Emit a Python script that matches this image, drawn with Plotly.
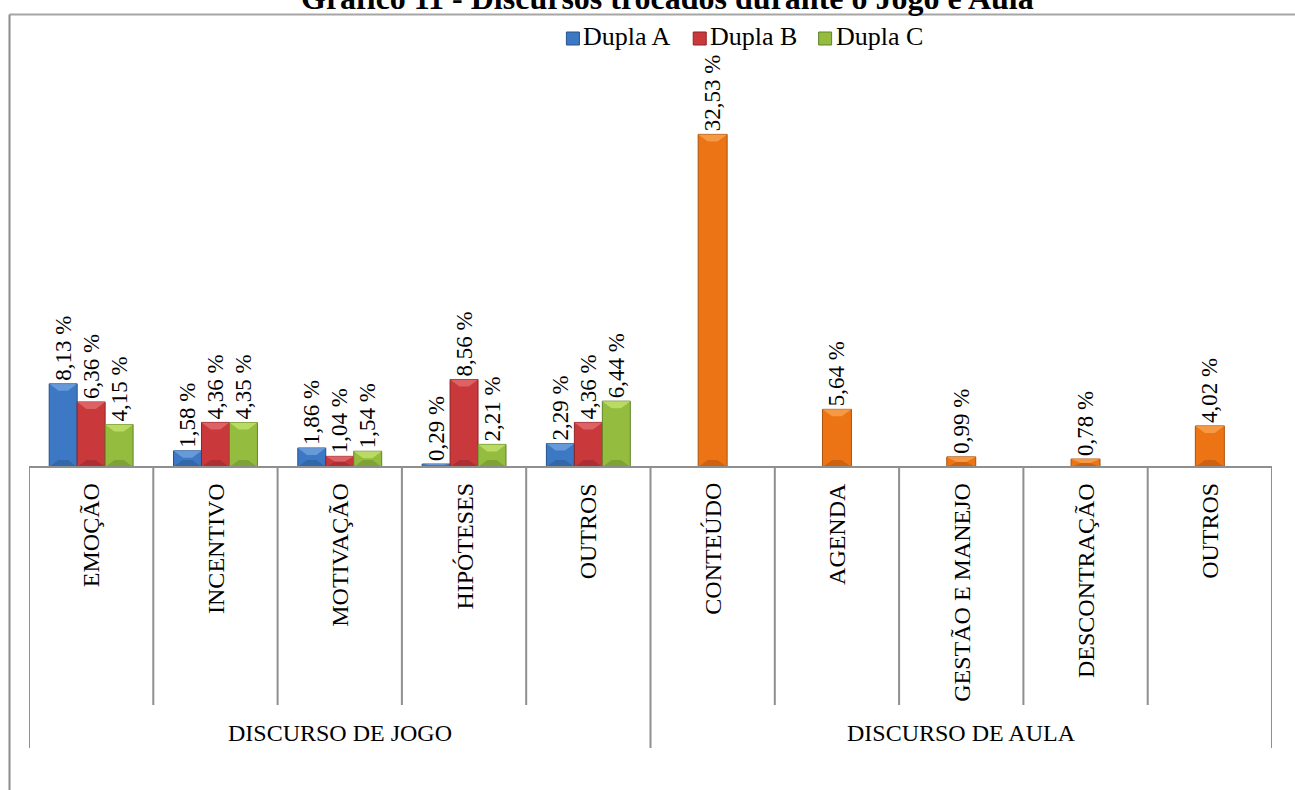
import plotly.graph_objects as go

# Category labels (inner level) and discourse groups (outer level)
categorias = ["EMOÇÃO", "INCENTIVO", "MOTIVAÇÃO", "HIPÓTESES", "OUTROS",
              "CONTEÚDO", "AGENDA", "GESTÃO E MANEJO", "DESCONTRAÇÃO", "OUTROS"]
grupos = ["DISCURSO DE JOGO", "DISCURSO DE AULA"]
grupo_tamanho = [5, 5]

# Percentages for the game discourse (per pair)
jogo_idx = [0, 1, 2, 3, 4]
dupla_a = [8.13, 1.58, 1.86, 0.29, 2.29]
dupla_b = [6.36, 4.36, 1.04, 8.56, 4.36]
dupla_c = [4.15, 4.35, 1.54, 2.21, 6.44]

# Percentages for the class discourse
aula_idx = [5, 6, 7, 8, 9]
aula = [32.53, 5.64, 0.99, 0.78, 4.02]

FONT = "Liberation Serif"
W, H = 1295, 790
PX0, PX1 = 29, 1272      # plot area horizontal extent
PY_TOP, PY_BASE = 58, 467  # plot area top and baseline
Y_MAX = 40
GRAY = "#8f8f8f"
PX_PER_UNIT = (PY_BASE - PY_TOP) / Y_MAX


def fx(p):
    return (p - PX0) / (PX1 - PX0)


def fy(p):
    return (PY_BASE - p) / (PY_BASE - PY_TOP)


BW = 0.225
# name, x, values, offset, width, face, edge, light bevel, dark bevel, in legend
series = [
    ("Dupla A", jogo_idx, dupla_a, -1.5 * BW, BW,
     "#3c78c3", "#26528c", "#6fa0dc", "#2c5c97", True),
    ("Dupla B", jogo_idx, dupla_b, -0.5 * BW, BW,
     "#c9393c", "#8e2326", "#e06a6c", "#9c2a2d", True),
    ("Dupla C", jogo_idx, dupla_c, 0.5 * BW, BW,
     "#94bc3e", "#62822a", "#c0e06a", "#70922e", True),
    ("Aula", aula_idx, aula, -0.5 * 0.233, 0.233,
     "#ec7414", "#a9520c", "#f7a04e", "#b9590e", False),
]

fig = go.Figure()
shapes = []
annotations = []

for nome, xs, ys, off, wd, cor, borda, claro, escuro, leg in series:
    fig.add_trace(go.Bar(
        name=nome, x=xs, y=ys, width=wd, offset=off,
        marker=dict(color=cor, line=dict(color=borda, width=1)),
        texttemplate="%{y:.2f} %", textposition="outside", textangle=-90,
        textfont=dict(family=FONT, size=23, color="black"),
        constraintext="none", cliponaxis=False, showlegend=False,
        hoverinfo="skip",
    ))
    # bevelled top and bottom faces on each bar
    for xi, v in zip(xs, ys):
        x0 = xi + off
        x1 = x0 + wd
        d = min(7.0, v * PX_PER_UNIT / 2) / PX_PER_UNIT
        ins = wd / 3
        shapes.append(dict(
            type="path", xref="x", yref="y", layer="above",
            path=f"M {x0},{v} L {x1},{v} L {x1 - ins},{v - d} L {x0 + ins},{v - d} Z",
            fillcolor=claro, line=dict(width=0), opacity=0.85))
        shapes.append(dict(
            type="path", xref="x", yref="y", layer="above",
            path=f"M {x0},0 L {x1},0 L {x1 - ins},{d} L {x0 + ins},{d} Z",
            fillcolor=escuro, line=dict(width=0), opacity=0.6))

# title, sitting on the top edge of the frame
annotations.append(dict(
    text="<b>Gráfico 11 - Discursos trocados durante o Jogo e Aula</b>",
    x=fx(667), xref="paper", y=fy(-2), yref="paper",
    xanchor="center", yanchor="middle", showarrow=False,
    font=dict(family=FONT, size=32, color="black")))

# outer frame (top and left edges)
shapes.append(dict(type="line", xref="paper", yref="paper",
                   x0=fx(9.5), x1=fx(W + 5), y0=fy(14.5), y1=fy(14.5),
                   line=dict(color="#a6a6a6", width=2)))
shapes.append(dict(type="line", xref="paper", yref="paper",
                   x0=fx(9.5), x1=fx(9.5), y0=fy(14.5), y1=fy(H + 5),
                   line=dict(color="#8c8c8c", width=2)))

# category axis baseline
n = len(categorias)
shapes.append(dict(type="line", xref="x", yref="paper",
                   x0=-0.5, x1=n - 0.5, y0=0, y1=0,
                   line=dict(color=GRAY, width=2)))
# dividers: inner between categories, longer ones between groups
limites = [0]
for g in grupo_tamanho:
    limites.append(limites[-1] + g)
for k in range(n + 1):
    fundo = 748 if k in limites else 705
    shapes.append(dict(type="line", xref="x", yref="paper",
                       x0=k - 0.5, x1=k - 0.5, y0=0, y1=fy(fundo),
                       line=dict(color=GRAY, width=2)))

for k, c in enumerate(categorias):
    annotations.append(dict(x=k, xref="x", y=fy(481), yref="paper",
                            text=c, textangle=-90, showarrow=False,
                            xanchor="center", yanchor="top",
                            font=dict(family=FONT, size=24, color="black")))
for i, g in enumerate(grupos):
    centro = (limites[i] + limites[i + 1] - 1) / 2
    annotations.append(dict(x=centro, xref="x", y=fy(733), yref="paper",
                            text=g, showarrow=False,
                            xanchor="center", yanchor="middle",
                            font=dict(family=FONT, size=24, color="black")))

# compact legend: swatch followed directly by its label
LEG_Y = 38
LEG_FS = 26
LEG_END = 922
em = {"D": .722, "u": .5, "p": .5, "l": .278, "a": .444, " ": .25,
      "A": .722, "B": .667, "C": .667}
legenda = [(s[0], s[5], s[6]) for s in series if s[9]]
largura_txt = [sum(em.get(ch, .5) for ch in nome) * LEG_FS for nome, _, _ in legenda]
total = sum(16 + w for w in largura_txt) + 22 * (len(legenda) - 1)
x = LEG_END - total
for (nome, cor, borda), wt in zip(legenda, largura_txt):
    shapes.append(dict(type="rect", xref="paper", yref="paper",
                       x0=fx(x), x1=fx(x + 13), y0=fy(LEG_Y - 6), y1=fy(LEG_Y + 7),
                       fillcolor=cor, line=dict(color=borda, width=1)))
    annotations.append(dict(x=fx(x + 15), xref="paper", y=fy(LEG_Y - 2), yref="paper",
                            text=nome, showarrow=False,
                            xanchor="left", yanchor="middle",
                            font=dict(family=FONT, size=LEG_FS, color="black")))
    x += 16 + wt + 22

fig.update_layout(
    width=W, height=H,
    margin=dict(l=PX0, r=W - PX1, t=PY_TOP, b=H - PY_BASE, pad=0),
    paper_bgcolor="white", plot_bgcolor="white",
    separators=", ",
    barmode="overlay",
    showlegend=False,
    xaxis=dict(range=[-0.5, n - 0.5], visible=False, fixedrange=True),
    yaxis=dict(range=[0, Y_MAX], visible=False, fixedrange=True),
    shapes=shapes, annotations=annotations,
    font=dict(family=FONT),
)

fig.write_html("out.html", config={"displayModeBar": False})
